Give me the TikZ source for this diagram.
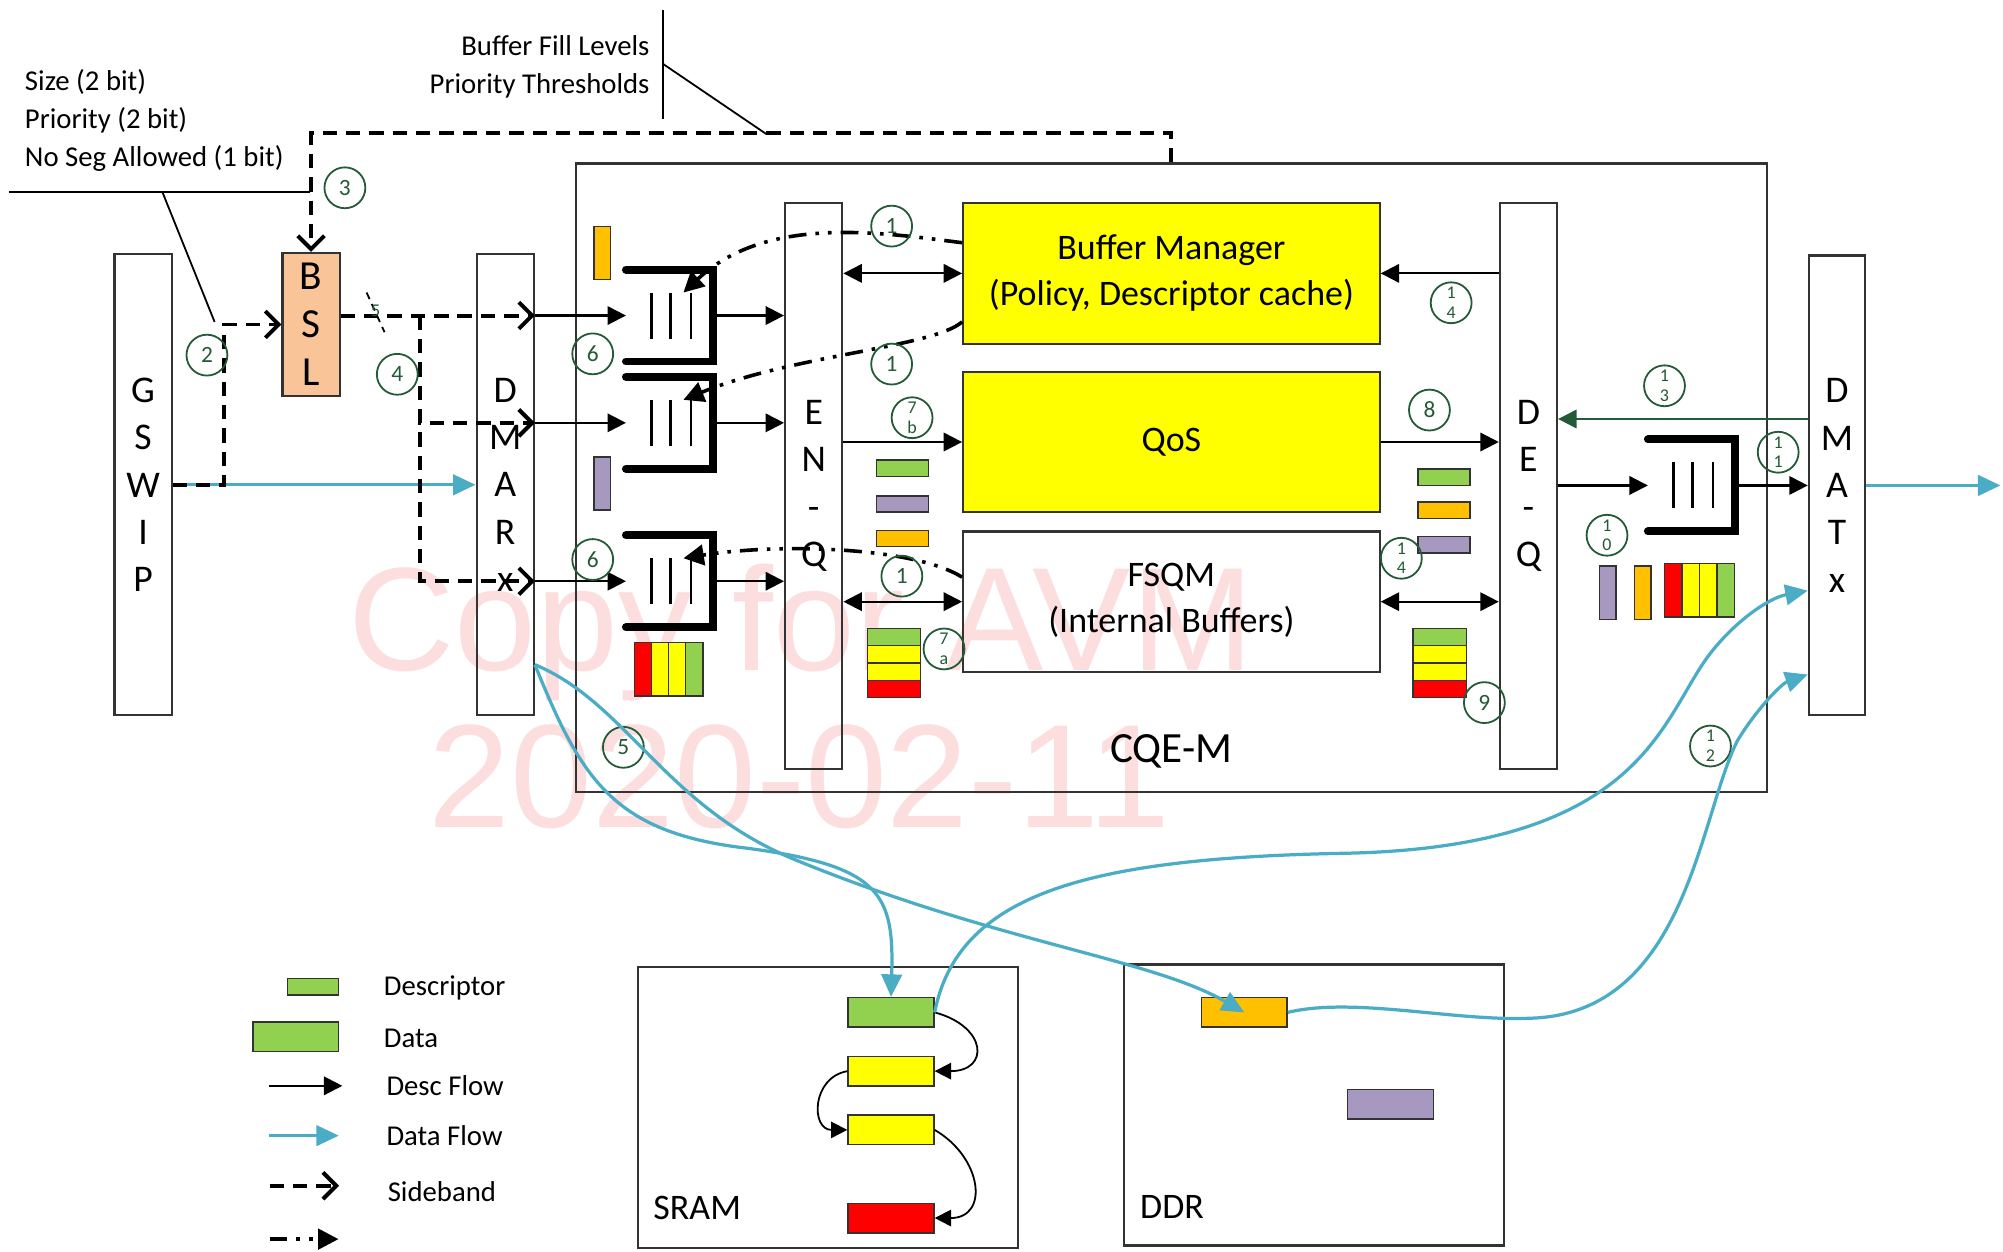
\documentclass[tikz,border=0pt]{standalone}
\usepackage{fontspec}
\setmainfont{Carlito}
\newfontfamily\markfont{Liberation Sans}
\usepackage{tikz}
\usetikzlibrary{arrows.meta, positioning}
\definecolor{flowblue}{RGB}{75,172,198}
\definecolor{stepgreen}{RGB}{35,90,55}
\definecolor{bslpeach}{RGB}{248,196,152}
\definecolor{descgreen}{RGB}{146,208,80}
\definecolor{descorange}{RGB}{255,192,0}
\definecolor{descpurple}{RGB}{167,152,192}
\definecolor{blockyellow}{RGB}{255,255,0}
\definecolor{markpink}{RGB}{252,222,222}

\begin{document}
\begin{tikzpicture}[x=0.125mm, y=-0.125mm,
    unit/.style={draw=black!80, line width=0.6pt, inner sep=0pt, align=center,
                 minimum width=5.6mm, minimum height=45.1mm, font=\fontsize{10.5}{13.2}\selectfont},
    block/.style={draw=black!80, line width=0.6pt, fill=#1, minimum width=40.75mm,
                  minimum height=13.75mm, align=center, font=\fontsize{10}{12.8}\selectfont},
    mem/.style={draw=black!80, line width=0.6pt, minimum width=37.2mm, minimum height=27.5mm},
    num/.style={circle, draw=stepgreen, text=stepgreen, line width=0.5pt, minimum size=4mm,
                inner sep=0pt, font=\fontsize{6.5}{7}\selectfont},
    num2/.style={num, align=center, font=\fontsize{5}{5.5}\selectfont},
    dsc/.style={draw=black!80, fill=#1, inner sep=0pt, minimum width=5.1mm, minimum height=1.6mm},
    dscv/.style={draw=black!80, fill=#1, inner sep=0pt, minimum width=1.6mm, minimum height=5.2mm},
    buf/.style={draw=black!80, fill=#1, inner sep=0pt, minimum width=8.4mm, minimum height=2.9mm},
    stripe/.style={draw=black!80, fill=#1, inner sep=0pt, minimum width=5.2mm, minimum height=1.69mm},
    vstripe/.style={draw=black!80, fill=#1, inner sep=0pt, minimum width=1.69mm, minimum height=5.25mm},
    note/.style={font=\fontsize{8}{10.6}\selectfont, inner sep=0pt},
    descflow/.style={line width=0.6pt, -{Triangle[length=1.8mm, width=1.8mm]}},
    duplex/.style={line width=0.6pt, {Triangle[length=1.8mm, width=1.8mm]}-{Triangle[length=1.8mm, width=1.8mm]}},
    dflow/.style={flowblue, line width=0.9pt, -{Triangle[length=2.2mm, width=2mm]}},
    side/.style={line width=1.1pt, dash pattern=on 4pt off 2.5pt, -{Straight Barb[length=1.3mm, width=2.6mm]}},
    alloc/.style={line width=1pt, dash pattern=on 5pt off 2.5pt on 1pt off 2.5pt on 1pt off 2.5pt,
                  -{Triangle[length=2mm, width=2mm]}},
    link/.style={line width=0.5pt, -{Triangle[length=1.6mm, width=1.6mm]}},
    wall/.style={line width=2.2pt, line cap=round},
    slot/.style={line width=0.7pt},
    fifo/.pic={
        \draw[wall] (-34,-36) -| (34,36) -- (-34,36);
        \foreach \sx in {-14,1,17}
            \draw[slot] (\sx,-18) -- (\sx,18);
        \coordinate (-in) at (-34,0);
        \coordinate (-out) at (34,0);
        \coordinate (-top) at (11,-18);
    }
]
    \useasboundingbox (0,0) rectangle (1568,980);

    % watermark
    \node[text=markpink, font=\markfont\fontsize{41}{41}\selectfont, anchor=base] (wm1) at (627,525) {Copy for AVM};
    \node[text=markpink, font=\markfont\fontsize{41}{41}\selectfont, anchor=base] (wm2) at (626,648) {2020-02-11};

    % blocks
    \node[draw=black!80, line width=0.6pt, minimum width=116.5mm, minimum height=61.5mm] (cqe) at (917,374) {};
    \node[font=\fontsize{12}{12}\selectfont] (cqelabel) at (917,588) {CQE-M};

    \node[unit] (gswip) at (112,379.5) {G\\S\\W\\I\\P};
    \node[unit, fill=bslpeach, minimum height=14mm, font=\fontsize{11.5}{13.4}\selectfont] (bsl) at (243.5,254) {B\\S\\L};
    \node[unit] (dmar) at (395.5,379.5) {D\\M\\A\\R\\x};
    \node[unit, minimum height=55.4mm] (enq) at (637,380.5) {E\\N\\-\\Q};
    \node[unit, minimum height=55.4mm] (deq) at (1196.5,380.5) {D\\E\\-\\Q};
    \node[unit, minimum width=5.5mm, minimum height=45mm] (dmatx) at (1438,380) {D\\M\\A\\T\\x};

    \node[block=blockyellow, text depth=0.4ex] (bm) at (917,214) {Buffer Manager\\(Policy, Descriptor cache)};
    \node[block=blockyellow] (qos) at (917,346) {QoS};
    \node[block=none, text depth=0.4ex] (fsqm) at (917,471) {FSQM\\(Internal Buffers)};

    \node[mem] (sram) at (648,867) {};
    \node[anchor=base west, inner sep=0pt, font=\fontsize{10}{10}\selectfont] (sramlabel) at (511,955) {SRAM};
    \node[mem] (ddr) at (1028.5,865) {};
    \node[anchor=base west, inner sep=0pt, font=\fontsize{10}{10}\selectfont] (ddrlabel) at (892,954) {DDR};

    % queues
    \pic (q1) at (524,247) {fifo};
    \pic (q2) at (524,331) {fifo};
    \pic (q3) at (524,455) {fifo};
    \pic (q4) at (1324,380) {fifo};

    % annotations
    \node[note, anchor=west, align=left] (fields) at (19,94) {Size (2 bit)\\Priority (2 bit)\\No Seg Allowed (1 bit)};
    \draw[line width=0.6pt] (7,150) -- (243,150);
    \draw[line width=0.5pt] (127,150) -- (168,252);
    \node[note, anchor=east, align=right] (levels) at (509,52) {Buffer Fill Levels\\Priority Thresholds};
    \draw[line width=0.6pt] (519,8) -- (519,93);
    \draw[line width=0.5pt] (519,50) -- (600,105);

    % sideband
    \draw[dflow] (gswip.east) -- (dmar.west);
    \draw[side] (cqe.north) -- ++(0,-23) -| (bsl.north);
    \draw[side] (gswip.east) -| ([xshift=-5.6mm]bsl.west) -- (bsl.west);
    \draw[side] (bsl.east |- q1-in) -- (dmar.east |- q1-in);
    \coordinate (fork) at (329,247);
    \draw[side] (fork) |- (dmar.east |- q2-in);
    \draw[side] (fork) |- (dmar.east |- q3-in);
    \draw[line width=0.5pt, dash pattern=on 2pt off 1.5pt] (287,229) -- (301,260);
    \node[text=stepgreen, font=\fontsize{5}{5}\selectfont, inner sep=0pt] (buswidth) at (294,243) {5};

    % descriptor flow
    \foreach \q in {q1,q2,q3} {
        \draw[descflow] (dmar.east |- \q-in) -- (\q-in);
        \draw[descflow] (\q-out) -- (enq.west |- \q-out);
    }
    \draw[duplex] (enq.east |- bm.west) -- (bm.west);
    \draw[descflow] (enq.east |- qos.west) -- (qos.west);
    \draw[duplex] (enq.east |- fsqm.west) -- (fsqm.west);
    \draw[descflow] (deq.west |- bm.east) -- (bm.east);
    \draw[descflow] (qos.east) -- (deq.west |- qos.east);
    \draw[duplex] (fsqm.east) -- (deq.west |- fsqm.east);
    \coordinate (fbstart) at ([yshift=6.5mm]dmatx.west);
    \draw[descflow, stepgreen] (fbstart) -- (fbstart -| deq.east);
    \draw[descflow] (deq.east |- q4-in) -- (q4-in);
    \draw[descflow] (q4-out) -- (dmatx.west |- q4-out);
    \coordinate (txout) at (1566,380);
    \draw[dflow] (dmatx.east) -- (txout);

    % buffer allocation
    \draw[alloc] ([yshift=3mm]bm.west) .. controls (690,182) and (600,168) .. (q1-top);
    \draw[alloc] ([yshift=-4.75mm]bm.west) .. controls (730,272) and (620,278) .. (q2-top);
    \draw[alloc] ([yshift=2.4mm]fsqm.west) .. controls (715,428) and (610,425) .. (q3-top);

    % descriptors
    \node[dscv=descorange] (rxd1) at (471.5,198) {};
    \node[dscv=descpurple] (rxd2) at (471.5,378.5) {};
    \node[dsc=descgreen] (enqd1) at (706.5,366.5) {};
    \node[dsc=descpurple] (enqd2) at (706.5,394.5) {};
    \node[dsc=descorange] (enqd3) at (706.5,421.5) {};
    \node[dsc=descgreen] (deqd1) at (1130.5,373.5) {};
    \node[dsc=descorange] (deqd2) at (1130.5,399.5) {};
    \node[dsc=descpurple] (deqd3) at (1130.5,426.5) {};
    \node[dscv=descpurple] (txd1) at (1258.5,464) {};
    \node[dscv=descorange] (txd2) at (1286,464) {};
    \foreach \col [count=\i] in {descgreen,blockyellow,blockyellow,red} {
        \node[stripe=\col] (enqs\i) at (700,485.25+13.5*\i) {};
        \node[stripe=\col] (deqs\i) at (1127,485.25+13.5*\i) {};
    }
    \foreach \col [count=\i] in {red,blockyellow,blockyellow,descgreen} {
        \node[vstripe=\col] (rxs\i) at (490.4+13.25*\i,524) {};
        \node[vstripe=\col] (txs\i) at (1296.1+13.75*\i,462) {};
    }

    % steps
    \node[num] (n3) at (270,147) {3};
    \node[num] (n2) at (162,278) {2};
    \node[num] (n4) at (311,293) {4};
    \node[num] (n6a) at (464,277) {6};
    \node[num] (n6b) at (464,438) {6};
    \node[num] (n1a) at (698,177) {1};
    \node[num] (n1b) at (698,285) {1};
    \node[num] (n1c) at (706,451) {1};
    \node[num2] (n7b) at (714,327) {7\\b};
    \node[num2] (n7a) at (739,508) {7\\a};
    \node[num2] (n14a) at (1136,237) {1\\4};
    \node[num2] (n14b) at (1097,437) {1\\4};
    \node[num] (n8) at (1119,321) {8};
    \node[num] (n9) at (1162,550) {9};
    \node[num2] (n13) at (1303,302) {1\\3};
    \node[num2] (n11) at (1392,354) {1\\1};
    \node[num2] (n10) at (1258,419) {1\\0};
    \node[num2] (n12) at (1339,584) {1\\2};
    \node[num] (n5) at (488,585) {5};

    % memories
    \node[buf=descgreen] (sr1) at (697.5,792.5) {};
    \node[buf=blockyellow] (sr2) at (697.5,838.5) {};
    \node[buf=blockyellow] (sr3) at (697.5,884.5) {};
    \node[buf=red] (sr4) at (697.5,953.5) {};
    \node[buf=descorange] (dd1) at (974,792.5) {};
    \node[buf=descpurple] (dd2) at (1088.5,864.5) {};
    \draw[link] (sr1.east) to[out=-15, in=0, looseness=2.4] (sr2.east);
    \draw[link] (sr2.west) to[out=190, in=180, looseness=1.6] (sr3.west);
    \draw[link] (sr3.east) to[out=-30, in=0, looseness=1.6] (sr4.east);

    % data flow
    \coordinate (rxtap) at ([yshift=-17.6mm]dmar.east);
    \coordinate (txin1) at ([yshift=-10.3mm]dmatx.west);
    \coordinate (txin2) at ([yshift=-18.5mm]dmatx.west);
    \draw[dflow] (rxtap) .. controls (455,610) and (480,652) .. (585,664)
        .. controls (690,678) and (700,700) .. (sr1.north);
    \draw[dflow] (rxtap) .. controls (490,550) and (520,630) .. (620,672)
        .. controls (780,738) and (900,750) .. (dd1.center);
    \draw[dflow] (sr1.east) .. controls (750,700) and (850,672) .. (1050,668)
        .. controls (1290,664) and (1300,560) .. (1340,510)
        .. controls (1360,485) and (1385,468) .. (txin1);
    \draw[dflow] (dd1.east) .. controls (1060,780) and (1140,800) .. (1200,797)
        .. controls (1320,792) and (1330,640) .. (1360,580)
        .. controls (1375,555) and (1395,535) .. (txin2);

    % legend
    \node[dsc=descgreen, minimum width=5mm] (lgdesc) at (245,772.5) {};
    \node[note, anchor=west] (lgdesctext) at (300,773) {Descriptor};
    \node[buf=descgreen] (lgdata) at (231.5,811.5) {};
    \node[note, anchor=west] (lgdatatext) at (300,813) {Data};
    \node[note, anchor=west] (lgdescflow) at (302,850) {Desc Flow};
    \node[note, anchor=west] (lgdataflow) at (302,889) {Data Flow};
    \node[note, anchor=west] (lgside) at (303,933) {Sideband};
    \draw[descflow] ([xshift=-11.4mm]lgdescflow.west) -- ([xshift=-4.25mm]lgdescflow.west);
    \draw[dflow] ([xshift=-11.4mm]lgdataflow.west) -- ([xshift=-4.6mm]lgdataflow.west);
    \draw[side] ([xshift=-11.5mm, yshift=0.6mm]lgside.west) -- ([xshift=-4.7mm, yshift=0.6mm]lgside.west);
    \coordinate (lgalloc) at (211,970);
    \draw[alloc] (lgalloc) -- ++(54,0);
\end{tikzpicture}
\end{document}
